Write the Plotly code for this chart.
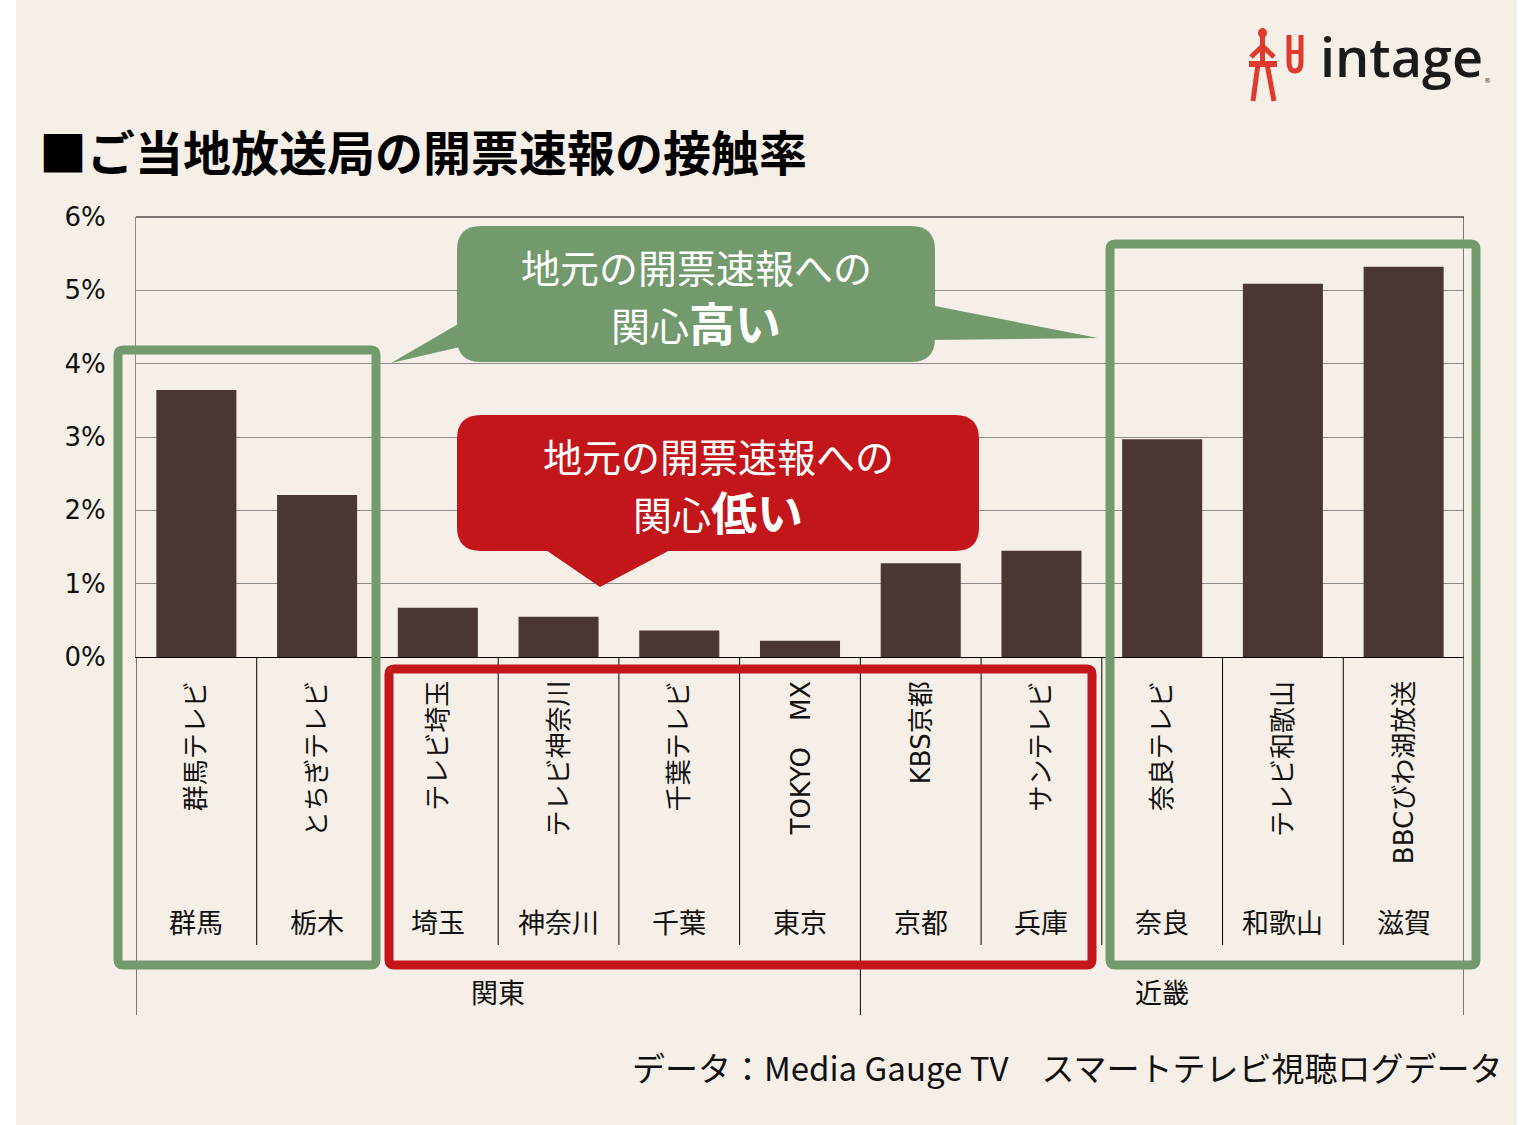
import plotly.graph_objects as go

# ---------------- data ----------------
stations = ["群馬テレビ", "とちぎテレビ", "テレビ埼玉", "テレビ神奈川", "千葉テレビ", "TOKYO　MX",
            "KBS京都", "サンテレビ", "奈良テレビ", "テレビ和歌山", "BBCびわ湖放送"]
prefectures = ["群馬", "栃木", "埼玉", "神奈川", "千葉", "東京", "京都", "兵庫", "奈良", "和歌山", "滋賀"]
regions = ["関東", "近畿"]
region_sizes = [6, 5]
contact_rate = [3.64, 2.21, 0.67, 0.55, 0.36, 0.22, 1.28, 1.45, 2.97, 5.09, 5.32]
y_ticks = [0, 1, 2, 3, 4, 5, 6]

title_text = "■ご当地放送局の開票速報の接触率"
high_line1 = "地元の開票速報への"
high_line2 = "関心"
high_bold = "高い"
low_line1 = "地元の開票速報への"
low_line2 = "関心"
low_bold = "低い"
source_text = "データ：Media Gauge TV　スマートテレビ視聴ログデータ"

# ---------------- layout geometry ----------------
W, H = 1525, 1125
PL, PR, PT, PB = 136, 1464, 217, 657

def px(x):
    return (x - PL) / (PR - PL)

def py(y):
    return (PB - y) / (PB - PT)

def P(x, y):
    return f"{px(x):.5f},{py(y):.5f}"

def rrect(x0, y0, x1, y1, r):
    return (f"M {P(x0+r, y0)} L {P(x1-r, y0)} Q {P(x1, y0)} {P(x1, y0+r)} "
            f"L {P(x1, y1-r)} Q {P(x1, y1)} {P(x1-r, y1)} L {P(x0+r, y1)} "
            f"Q {P(x0, y1)} {P(x0, y1-r)} L {P(x0, y0+r)} Q {P(x0, y0)} {P(x0+r, y0)} Z")

def tri(a, b, c):
    return f"M {P(*a)} L {P(*b)} L {P(*c)} Z"

BG = "#F5EFE8"
BAR = "#4A3731"
GREEN = "#729A6C"
RED = "#C3161B"
TXT = "#111111"
JP = "Noto Sans CJK JP"
LAT = "DejaVu Sans, Noto Sans CJK JP"

fig = go.Figure()
fig.add_trace(go.Bar(x=stations, y=contact_rate, marker=dict(color=BAR, line=dict(width=0)),
                     hoverinfo="skip"))

shapes = []
# page background (white strips at the sides)
shapes.append(dict(type="rect", xref="paper", yref="paper", x0=px(16), x1=px(1517),
                   y0=py(0), y1=py(H), fillcolor=BG, line=dict(width=0), layer="below"))
# frame lines
shapes.append(dict(type="line", xref="paper", yref="paper", x0=0, x1=1, y0=1, y1=1,
                   line=dict(color="#000000", width=1)))
# category dividers below the axis
n = len(stations)
bounds = [0]
for s in region_sizes:
    bounds.append(bounds[-1] + s)
for k in range(n + 1):
    long = k in bounds
    shapes.append(dict(type="line", xref="x", yref="paper", x0=k - 0.5, x1=k - 0.5,
                       y0=1 if k == n else 0, y1=py(1015) if long else py(945),
                       line=dict(color="#000000", width=1)))

# highlight outlines
shapes.append(dict(type="path", xref="paper", yref="paper", path=rrect(118, 350, 376, 965, 5),
                   line=dict(color=GREEN, width=9)))
shapes.append(dict(type="path", xref="paper", yref="paper", path=rrect(1110, 244, 1476, 965, 5),
                   line=dict(color=GREEN, width=9)))
shapes.append(dict(type="path", xref="paper", yref="paper", path=rrect(389, 669, 1092, 965, 5),
                   line=dict(color=RED, width=9)))

# callouts
shapes.append(dict(type="path", xref="paper", yref="paper", path=rrect(457, 226, 935, 362, 24),
                   fillcolor=GREEN, line=dict(width=0)))
shapes.append(dict(type="path", xref="paper", yref="paper", path=tri((460, 323), (391, 363), (460, 347)),
                   fillcolor=GREEN, line=dict(width=0)))
shapes.append(dict(type="path", xref="paper", yref="paper", path=tri((930, 305), (1098, 338), (930, 340)),
                   fillcolor=GREEN, line=dict(width=0)))
shapes.append(dict(type="path", xref="paper", yref="paper", path=rrect(457, 415, 979, 551, 24),
                   fillcolor=RED, line=dict(width=0)))
shapes.append(dict(type="path", xref="paper", yref="paper", path=tri((543, 548), (600, 587), (674, 548)),
                   fillcolor=RED, line=dict(width=0)))

# logo figure
LOGO = "#E03A2E"
def seg(a, b, w=5):
    shapes.append(dict(type="line", xref="paper", yref="paper", x0=px(a[0]), y0=py(a[1]),
                       x1=px(b[0]), y1=py(b[1]), line=dict(color=LOGO, width=w)))
shapes.append(dict(type="circle", xref="paper", yref="paper", x0=px(1258), x1=px(1267),
                   y0=py(28), y1=py(38), fillcolor=LOGO, line=dict(width=0)))
seg((1262.5, 37), (1262.5, 64))
seg((1262.5, 46), (1251, 57))
seg((1262.5, 46), (1274, 57))
seg((1249, 64), (1277, 64), 6)
seg((1258, 64), (1253, 101))
seg((1267, 64), (1274, 101))
shapes.append(dict(type="path", xref="paper", yref="paper",
                   path=f"M {P(1289, 35)} L {P(1289, 62)} Q {P(1289, 71)} {P(1295, 71)} "
                        f"Q {P(1301, 71)} {P(1301, 62)} L {P(1301, 35)}",
                   line=dict(color=LOGO, width=5)))
seg((1289, 52), (1301, 52), 4)

annotations = []
# station names (rotated)
for s in stations:
    annotations.append(dict(x=s, xref="x", y=py(679), yref="paper", text=s, textangle=-90,
                            xanchor="center", yanchor="top", showarrow=False,
                            font=dict(family=LAT, size=26, color=TXT)))
# prefectures
for s, p in zip(stations, prefectures):
    annotations.append(dict(x=s, xref="x", y=py(921), yref="paper", text=p,
                            xanchor="center", yanchor="middle", showarrow=False,
                            font=dict(family=JP, size=27, color=TXT)))
# regions
for i, r in enumerate(regions):
    center = (bounds[i] + bounds[i + 1]) / 2 - 0.5
    annotations.append(dict(x=center, xref="x", y=py(991), yref="paper", text=r,
                            xanchor="center", yanchor="middle", showarrow=False,
                            font=dict(family=JP, size=27, color=TXT)))
# title
annotations.append(dict(x=px(37), xref="paper", y=py(150), yref="paper", text=f"<b>{title_text}</b>",
                        xanchor="left", yanchor="middle", showarrow=False,
                        font=dict(family=JP, size=48, color="#000000")))
# callout texts
annotations.append(dict(x=px(696), xref="paper", y=py(266), yref="paper", text=high_line1,
                        xanchor="center", yanchor="middle", showarrow=False,
                        font=dict(family=JP, size=39, color="#FFFFFF")))
annotations.append(dict(x=px(696), xref="paper", y=py(321), yref="paper",
                        text=f"{high_line2}<b><span style='font-size:46px'>{high_bold}</span></b>",
                        xanchor="center", yanchor="middle", showarrow=False,
                        font=dict(family=JP, size=39, color="#FFFFFF")))
annotations.append(dict(x=px(718), xref="paper", y=py(455), yref="paper", text=low_line1,
                        xanchor="center", yanchor="middle", showarrow=False,
                        font=dict(family=JP, size=39, color="#FFFFFF")))
annotations.append(dict(x=px(718), xref="paper", y=py(510), yref="paper",
                        text=f"{low_line2}<b><span style='font-size:46px'>{low_bold}</span></b>",
                        xanchor="center", yanchor="middle", showarrow=False,
                        font=dict(family=JP, size=39, color="#FFFFFF")))
# source
annotations.append(dict(x=px(1504), xref="paper", y=py(1067), yref="paper", text=source_text,
                        xanchor="right", yanchor="middle", showarrow=False,
                        font=dict(family=JP, size=33, color=TXT)))
# logo text
annotations.append(dict(x=px(1318), xref="paper", y=py(56), yref="paper", text="intage",
                        xanchor="left", yanchor="middle", showarrow=False,
                        font=dict(family="Open Sans", size=54, color="#1A1A1A", weight=600)))
annotations.append(dict(x=px(1487), xref="paper", y=py(81), yref="paper", text="®",
                        xanchor="center", yanchor="middle", showarrow=False,
                        font=dict(family="DejaVu Sans", size=7, color="#333333")))

fig.update_layout(
    width=W, height=H,
    margin=dict(l=PL, r=W - PR, t=PT, b=H - PB, pad=0),
    paper_bgcolor="#FFFFFF", plot_bgcolor="rgba(0,0,0,0)",
    showlegend=False, bargap=0.337,
    shapes=shapes, annotations=annotations,
    xaxis=dict(type="category", range=[-0.5, n - 0.5], showticklabels=False, ticks="",
               showgrid=False, zeroline=False, showline=True, linecolor="#000000", linewidth=1,
               fixedrange=True),
    yaxis=dict(range=[0, 6], tickvals=y_ticks, ticktext=[f"{v}%" for v in y_ticks],
               showgrid=True, gridcolor="#8C8C8C", gridwidth=1, zeroline=False,
               showline=True, linecolor="#8C8C8C", linewidth=1, ticks="",
               ticklabelstandoff=24,
               tickfont=dict(family="DejaVu Sans", size=26, color=TXT), fixedrange=True),
)

fig.write_html("out.html", include_plotlyjs=True, full_html=True,
               config=dict(displayModeBar=False))
